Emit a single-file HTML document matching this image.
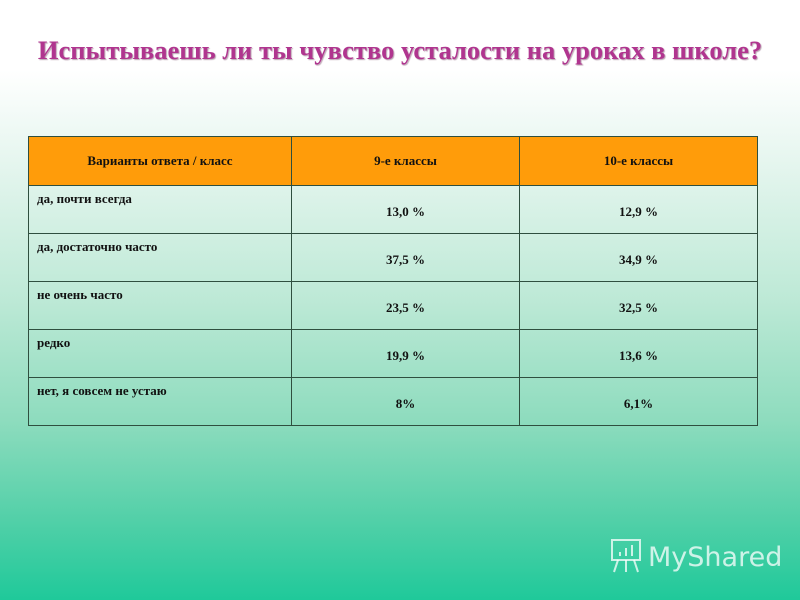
<!DOCTYPE html>
<html><head><meta charset="utf-8"><style>
body{margin:0;width:800px;height:600px;overflow:hidden;font-family:"Liberation Serif","Noto Serif CJK SC",serif;}
#bg{position:absolute;left:0;top:0;width:800px;height:600px;background:linear-gradient(to bottom,#ffffff 0px,#ffffff 70px,#e6f6ef 160px,#bde9d6 300px,#8edcbe 420px,#52d0a8 520px,#1fc99a 600px);}
#title{position:absolute;left:0;top:35px;width:800px;text-align:center;font-family:"Liberation Serif",serif;font-size:26.5px;font-weight:bold;color:#b0358f;text-shadow:1px 1px 1px #b9a0b0;white-space:nowrap;}
table{position:absolute;left:28px;top:136px;border-collapse:collapse;font-size:13px;font-weight:bold;color:#111;table-layout:fixed;}
td{border:1px solid #2f4f3f;padding:0;box-sizing:border-box;}
tr.h td{background:#ff9c0a;height:49px;text-align:center;}
tr.r td{height:48px;}
td.l{vertical-align:top;padding:5px 0 0 8px;}
td.v{text-align:center;padding-top:4px;}
#logo{position:absolute;left:608px;top:536px;color:rgba(255,255,255,0.75);font-family:"DejaVu Sans",sans-serif;font-size:27px;}
</style></head><body>
<div id="bg"></div>
<div id="title">Испытываешь ли ты чувство усталости на уроках в школе?</div>
<table>
<colgroup><col style="width:263px"><col style="width:228px"><col style="width:238px"></colgroup>
<tr class="h"><td>Варианты ответа / класс</td><td>9-е классы</td><td>10-е классы</td></tr>
<tr class="r"><td class="l">да, почти всегда</td><td class="v">13,0 %</td><td class="v">12,9 %</td></tr>
<tr class="r"><td class="l">да, достаточно часто</td><td class="v">37,5 %</td><td class="v">34,9 %</td></tr>
<tr class="r"><td class="l">не очень часто</td><td class="v">23,5 %</td><td class="v">32,5 %</td></tr>
<tr class="r"><td class="l">редко</td><td class="v">19,9 %</td><td class="v">13,6 %</td></tr>
<tr class="r"><td class="l">нет, я совсем не устаю</td><td class="v">8%</td><td class="v">6,1%</td></tr>
</table>
<div id="logo"><svg width="36" height="38" viewBox="0 0 36 38" style="vertical-align:-8px;margin-right:4px" fill="none" stroke="rgba(255,255,255,0.75)" stroke-width="2"><rect x="4" y="4" width="28" height="20"/><line x1="10" y1="24" x2="6" y2="36"/><line x1="26" y1="24" x2="30" y2="36"/><line x1="18" y1="24" x2="18" y2="36"/><line x1="12" y1="20" x2="12" y2="16"/><line x1="18" y1="20" x2="18" y2="12"/><line x1="24" y1="20" x2="24" y2="9"/></svg>MyShared</div>
</body></html>
